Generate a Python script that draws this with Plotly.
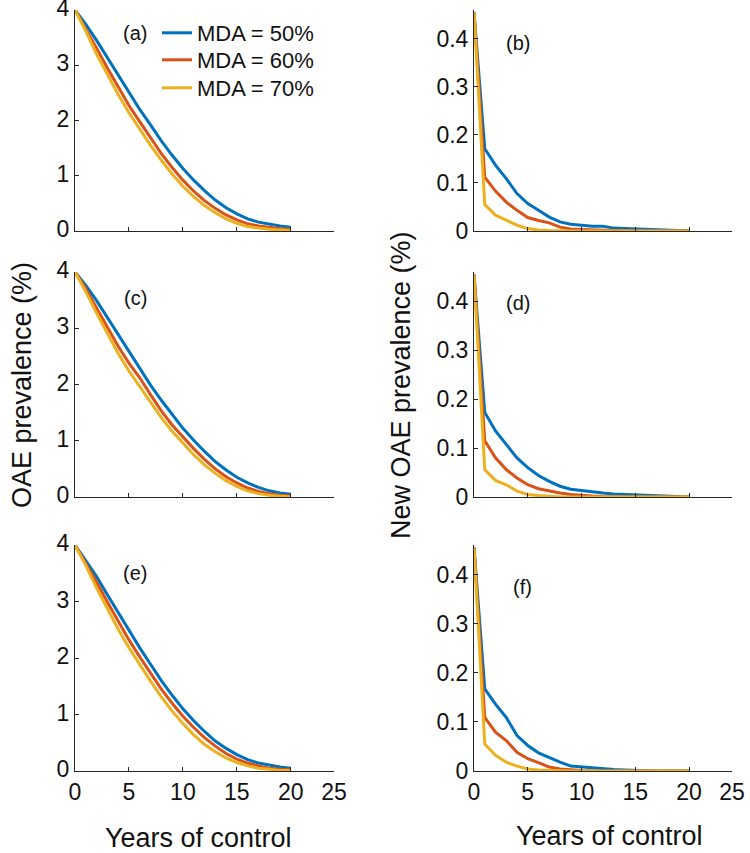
import plotly.graph_objects as go

# years of control (yearly outputs)
years = list(range(21))

# OAE prevalence (%) - panels a, c, e
a_mda50 = [4.0, 3.74, 3.45, 3.14, 2.82, 2.5, 2.2, 1.92, 1.63, 1.37, 1.13, 0.92, 0.73, 0.56, 0.42, 0.31, 0.22, 0.16, 0.12, 0.09, 0.07]
a_mda60 = [4.0, 3.66, 3.31, 2.95, 2.6, 2.27, 1.98, 1.68, 1.4, 1.15, 0.92, 0.72, 0.55, 0.41, 0.29, 0.2, 0.13, 0.09, 0.06, 0.04, 0.03]
a_mda70 = [4.0, 3.62, 3.2, 2.83, 2.47, 2.14, 1.84, 1.55, 1.28, 1.03, 0.81, 0.62, 0.46, 0.33, 0.22, 0.14, 0.08, 0.05, 0.03, 0.02, 0.01]

c_mda50 = [4.0, 3.76, 3.49, 3.19, 2.88, 2.57, 2.27, 1.99, 1.72, 1.46, 1.22, 1.01, 0.81, 0.63, 0.48, 0.35, 0.25, 0.17, 0.11, 0.07, 0.05]
c_mda60 = [4.0, 3.7, 3.36, 3.02, 2.68, 2.38, 2.12, 1.82, 1.53, 1.28, 1.07, 0.86, 0.67, 0.5, 0.36, 0.25, 0.16, 0.1, 0.06, 0.03, 0.02]
c_mda70 = [4.0, 3.65, 3.27, 2.9, 2.55, 2.24, 1.96, 1.68, 1.41, 1.17, 0.95, 0.75, 0.57, 0.42, 0.29, 0.19, 0.11, 0.06, 0.03, 0.01, 0.0]

e_mda50 = [4.0, 3.73, 3.44, 3.12, 2.8, 2.48, 2.18, 1.89, 1.6, 1.34, 1.1, 0.89, 0.7, 0.53, 0.4, 0.29, 0.2, 0.14, 0.1, 0.07, 0.05]
e_mda60 = [4.0, 3.68, 3.34, 2.99, 2.65, 2.32, 2.02, 1.73, 1.45, 1.2, 0.97, 0.77, 0.59, 0.44, 0.31, 0.21, 0.14, 0.09, 0.05, 0.03, 0.02]
e_mda70 = [4.0, 3.64, 3.24, 2.87, 2.51, 2.18, 1.88, 1.59, 1.31, 1.06, 0.84, 0.64, 0.47, 0.34, 0.23, 0.15, 0.09, 0.05, 0.03, 0.01, 0.01]

# new OAE prevalence (%) - panels b, d, f
b_mda50 = [0.455, 0.171, 0.137, 0.109, 0.078, 0.057, 0.043, 0.029, 0.019, 0.014, 0.012, 0.01, 0.01, 0.006, 0.005, 0.004, 0.003, 0.002, 0.002, 0.001, 0.001]
b_mda60 = [0.455, 0.112, 0.083, 0.06, 0.043, 0.028, 0.022, 0.017, 0.008, 0.004, 0.003, 0.002, 0.002, 0.001, 0.001, 0.0, 0.0, 0.0, 0.0, 0.0, 0.0]
b_mda70 = [0.455, 0.055, 0.033, 0.022, 0.012, 0.005, 0.002, 0.001, 0.0, 0.0, 0.0, 0.0, 0.0, 0.0, 0.0, 0.0, 0.0, 0.0, 0.0, 0.0, 0.0]

d_mda50 = [0.455, 0.173, 0.135, 0.108, 0.08, 0.06, 0.044, 0.032, 0.022, 0.016, 0.013, 0.01, 0.008, 0.006, 0.005, 0.004, 0.003, 0.002, 0.001, 0.001, 0.0]
d_mda60 = [0.455, 0.115, 0.08, 0.056, 0.039, 0.025, 0.017, 0.012, 0.008, 0.005, 0.003, 0.002, 0.001, 0.001, 0.0, 0.0, 0.0, 0.0, 0.0, 0.0, 0.0]
d_mda70 = [0.455, 0.056, 0.034, 0.025, 0.012, 0.005, 0.003, 0.001, 0.0, 0.0, 0.0, 0.0, 0.0, 0.0, 0.0, 0.0, 0.0, 0.0, 0.0, 0.0, 0.0]

f_mda50 = [0.455, 0.167, 0.136, 0.109, 0.072, 0.052, 0.037, 0.027, 0.018, 0.01, 0.008, 0.006, 0.004, 0.003, 0.002, 0.001, 0.001, 0.0, 0.0, 0.0, 0.0]
f_mda60 = [0.455, 0.109, 0.079, 0.062, 0.038, 0.025, 0.017, 0.008, 0.004, 0.002, 0.001, 0.0, 0.0, 0.0, 0.0, 0.0, 0.0, 0.0, 0.0, 0.0, 0.0]
f_mda70 = [0.455, 0.055, 0.032, 0.018, 0.01, 0.004, 0.002, 0.001, 0.0, 0.0, 0.0, 0.0, 0.0, 0.0, 0.0, 0.0, 0.0, 0.0, 0.0, 0.0, 0.0]

series_names = ["MDA = 50%", "MDA = 60%", "MDA = 70%"]
colors = ["#0072BD", "#D95319", "#EDB120"]
x_ticks = [0, 5, 10, 15, 20, 24]
x_ticktext = ["0", "5", "10", "15", "20", "25"]

panels = [
    ("(a)", [a_mda50, a_mda60, a_mda70]),
    ("(b)", [b_mda50, b_mda60, b_mda70]),
    ("(c)", [c_mda50, c_mda60, c_mda70]),
    ("(d)", [d_mda50, d_mda60, d_mda70]),
    ("(e)", [e_mda50, e_mda60, e_mda70]),
    ("(f)", [f_mda50, f_mda60, f_mda70]),
]

W, H = 750, 853
FONT = "Liberation Sans, Arial, Helvetica, sans-serif"
INK = "#262626"
TXT = "#111"

col_px = [(75, 334), (474, 732)]
row_px = [(10, 231), (272, 497), (545, 771)]
legend_names = ["legend", "legend2", "legend3"]

fig = go.Figure()
layout = {}
annotations = []

for i, (label, ys) in enumerate(panels):
    r, c = divmod(i, 2)
    n = i + 1
    xa = "xaxis" if n == 1 else f"xaxis{n}"
    ya = "yaxis" if n == 1 else f"yaxis{n}"
    xref = "x" if n == 1 else f"x{n}"
    yref = "y" if n == 1 else f"y{n}"

    for k in range(3):
        fig.add_trace(go.Scatter(
            x=years, y=ys[k], mode="lines", name=series_names[k],
            line=dict(color=colors[k], width=3),
            showlegend=(i == 0), legend=legend_names[k],
            xaxis=xref, yaxis=yref, cliponaxis=False))

    x0, x1 = col_px[c]
    top, bot = row_px[r]
    layout[xa] = dict(
        domain=[x0 / W, x1 / W], range=[0, 24], anchor=yref, automargin=False,
        tickmode="array", tickvals=x_ticks, ticktext=x_ticktext,
        showticklabels=(r == 2), ticks="inside", ticklen=4, tickcolor=INK,
        showline=True, linecolor=INK, linewidth=1, showgrid=False, zeroline=False,
        ticklabeloverflow="allow", tickfont=dict(size=23, color=TXT))
    if c == 0:
        yr = [0, 4]
        yt = [0, 1, 2, 3, 4]
        ytt = ["0", "1", "2", "3", "4"]
        shift = -2
    else:
        yr = [0, 0.46]
        yt = [0, 0.1, 0.2, 0.3, 0.4]
        ytt = ["0", "0.1", "0.2", "0.3", "0.4"]
        shift = 0
    layout[ya] = dict(
        domain=[1 - bot / H, 1 - top / H], range=yr, anchor=xref, automargin=False,
        tickmode="array", tickvals=yt, ticktext=ytt,
        ticks="inside", ticklen=4, tickcolor=INK, ticklabelshift=shift,
        showline=True, linecolor=INK, linewidth=1, showgrid=False, zeroline=False,
        ticklabeloverflow="allow", tickfont=dict(size=23, color=TXT))


def note(text, px, py, size, angle=0):
    return dict(text=text, x=px / W, y=1 - py / H, xref="paper", yref="paper",
                xanchor="center", yanchor="middle", textangle=angle, showarrow=False,
                font=dict(size=size, color=TXT, family=FONT))


# panel labels
label_pos = [(135, 33), (518, 43), (135, 298), (518, 303), (135, 573), (522, 587)]
for (label, _), (px, py) in zip(panels, label_pos):
    annotations.append(note(label, px, py, 20))

# axis titles
annotations.append(note("OAE prevalence (%)", 22, 385, 27, -90))
annotations.append(note("New OAE prevalence (%)", 401, 385, 27, -90))
annotations.append(note("Years of control", 199, 838, 27))
annotations.append(note("Years of control", 609, 836, 27))

# one legend per series so the rows sit like the original
legend_y = [33, 60, 88]
for name, ly in zip(legend_names, legend_y):
    layout[name] = dict(x=157 / W, y=1 - ly / H, xanchor="left", yanchor="middle",
                        bgcolor="rgba(0,0,0,0)", font=dict(size=22, color=TXT),
                        itemwidth=30, borderwidth=0)

fig.update_layout(
    width=W, height=H,
    margin=dict(l=0, r=0, t=0, b=0),
    paper_bgcolor="white", plot_bgcolor="white",
    font=dict(family=FONT, color=TXT),
    showlegend=True,
    annotations=annotations,
    **layout)

fig.write_html("out.html", config={"displayModeBar": False},
               post_script="document.body.style.margin='0';")
